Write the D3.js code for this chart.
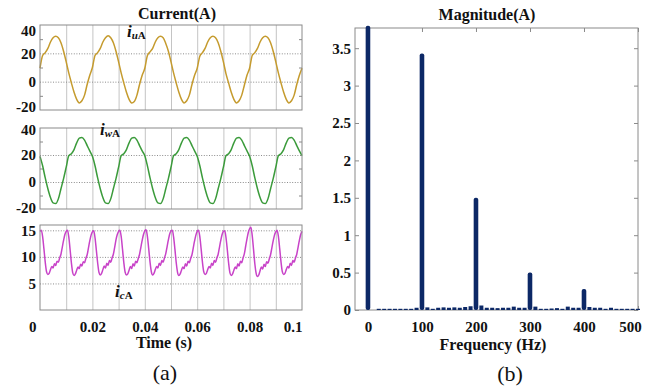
<!DOCTYPE html>
<html lang="en">
<head>
<meta charset="UTF-8">
<title>Current and spectrum</title>
<script src="https://cdn.jsdelivr.net/npm/d3@7/dist/d3.min.js"></script>
<style>
body{margin:0;background:#fff;}
</style>
</head>
<body>
<script>
// ---- data ----
// i_uA, sampled every 1 ms from 0 to 0.1 s
var iuVals = [
 9.5,18.5,20.5,23.5,28,31,32,31,27.5,21.5,14,6,-1,-7.5,-12.5,-15,-13.5,-9.5,-2,4.5,
 10,18.5,20.5,23.5,28,31,32.5,31,27.5,21.5,14,6,-1,-7.5,-12.5,-15,-14,-9.5,-2,4.5,
 9.5,18.5,21,23.5,28,31,32,31,27,21.5,14,6,-1,-7.5,-12.5,-15,-13.5,-9.5,-2,4.5,
 9.5,18,20.5,23.5,28,31,32,31,27.5,21.5,14,5.5,-1,-7.5,-12.5,-15,-13.5,-9.5,-2.5,4.5,
 9.5,18.5,20.5,23.5,28,31,32,31,27.5,21.5,14,6,-1,-7.5,-12.5,-15,-13.5,-9.5,-2,4.5,
 9.5];
// i_wA, sampled every 1 ms
var iwVals = [
 19,12,3,-5,-11.5,-15.5,-16,-12.5,-5,2.5,11,19.5,21,24,29,32.5,33,31,27,23,
 19,12,3,-5,-11.5,-15.5,-16,-12.5,-5,2.5,11,19.5,21,24,29,32.5,33,31,27,23,
 19.5,12,3,-5,-11.5,-15.5,-16,-12.5,-5,2.5,11,19.5,21,24,29,32.5,33,31,27,23,
 19,12,3,-5,-11.5,-15.5,-16,-12.5,-5,2.5,11,19.5,21,24,29,32.5,33,31,27,23,
 19,12,3,-5,-11.5,-15.5,-16,-12.5,-5,2.5,11,19.5,21,24,29,32.5,33,31,27,23,
 19.5];
// i_cA, sampled every 0.5 ms
var icVals = [14.8,
 15,13.8,11.5,9,7.2,6.7,6.9,7.6,8.2,7.9,8.7,8.4,9.2,9.0,9.8,10.5,11.8,13.1,14.2,14.8,
 15,13.7,11.3,8.8,7.0,6.5,6.8,7.5,8.1,7.8,8.6,8.3,9.1,8.9,9.7,10.4,11.7,13.0,14.1,14.7,
 14.9,13.6,11.3,8.9,7.1,6.6,6.9,7.6,8.3,7.9,8.8,8.4,9.3,9.0,9.8,10.5,11.8,13.2,14.2,14.8,
 15,13.8,11.4,8.9,7.1,6.6,6.8,7.5,8.2,7.8,8.7,8.3,9.2,8.9,9.7,10.5,11.8,13.1,14.2,14.9,
 15.1,13.8,11.5,9,7.2,6.6,6.9,7.6,8.2,7.9,8.8,8.4,9.3,9.0,9.8,10.6,11.9,13.2,14.3,14.9,
 15,13.7,11.4,8.9,7.1,6.5,6.8,7.5,8.1,7.8,8.7,8.3,9.2,8.9,9.7,10.4,11.7,13.0,14.1,14.8,
 15,13.8,11.5,9,7.2,6.7,6.9,7.6,8.2,7.9,8.8,8.4,9.3,9.0,9.8,10.5,11.8,13.1,14.2,14.8,
 14.9,13.6,11.3,8.8,7.0,6.5,6.8,7.5,8.1,7.8,8.7,8.3,9.2,8.9,9.8,10.6,12.0,13.4,14.6,15.3,
 15.6,14.0,11.4,8.7,6.9,6.3,6.6,7.4,8.1,7.7,8.6,8.2,9.1,8.8,9.6,10.4,11.7,13.0,14.1,14.7,
 15,13.8,11.5,9,7.2,6.7,6.9,7.6,8.2,7.9,8.8,8.4,9.3,9.0,9.8,10.5,11.8,13.1,14.2,14.8];
var tA = d3.range(iuVals.length).map(function(i){return i*0.001;});
var tC = d3.range(icVals.length).map(function(i){return i*0.0005;});

var timeTicks = [0,0.02,0.04,0.06,0.08,0.1];
var timeLabels = ["0","0.02","0.04","0.06","0.08","0.1"];
var uwTicks = [40,20,0,-20];
var cTicks = [15,10,5];

// spectrum
var harmFreq = [0,100,200,300,400];
var harmMag = [3.8,3.43,1.5,0.5,0.28];
var noiseFreq = [20,30,40,50,60,70,80,90,110,120,130,140,150,160,170,180,190,
 210,220,230,240,250,260,270,280,290,310,320,330,340,350,360,370,380,390,
 410,420,430,440,450,460,470,480,490,500];
var noiseMag = [0.005,0.005,0.006,0.005,0.006,0.005,0.006,0.03,0.035,0.01,0.03,0.035,0.03,0.035,0.03,0.04,0.05,
 0.06,0.03,0.03,0.025,0.03,0.03,0.045,0.03,0.03,0.045,0.01,0.008,0.02,0.025,0.01,0.045,0.03,0.03,
 0.04,0.03,0.03,0.008,0.03,0.008,0.006,0.006,0.006,0.006];
var freqTicks = [0,100,200,300,400,500];
var magTicks = [0,0.5,1,1.5,2,2.5,3,3.5];

// ---- drawing ----
var width = 661, height = 390;
var serif = "'Liberation Serif','Times New Roman','DejaVu Serif',serif";
var svg = d3.select("body").append("svg").attr("width",width).attr("height",height);
var frameCol = "#8a8a8a";

var xA = d3.scaleLinear().domain([0,0.1]).range([40,302]);

var panels = [
  {vals:iuVals, t:tA, dom:[-20,40], rng:[110,25], grid:[20,0], minor:[30,10,-10], col:"#c59b2e", labels:uwTicks},
  {vals:iwVals, t:tA, dom:[-20,40], rng:[209,128], grid:[20,0], minor:[30,10,-10], col:"#3b9b3b", labels:uwTicks},
  {vals:icVals, t:tC, dom:[0,16], rng:[310,225], grid:[15,10,5], minor:[], col:"#c843c8", labels:cTicks}
];

panels.forEach(function(p,k){
  var y = d3.scaleLinear().domain(p.dom).range(p.rng);
  var g = svg.append("g");
  // vertical grid
  g.append("g").attr("transform","translate(0,"+p.rng[0]+")")
    .call(d3.axisBottom(xA).tickValues(d3.range(1,10).map(function(i){return i/100;})).tickSize(-(p.rng[0]-p.rng[1])).tickFormat(""))
    .call(function(s){s.select(".domain").remove();s.selectAll("line").attr("stroke","#c4c4c4");});
  // horizontal dotted grid
  g.append("g").attr("transform","translate(40,0)")
    .call(d3.axisRight(y).tickValues(p.grid).tickSize(262).tickFormat(""))
    .call(function(s){s.select(".domain").remove();s.selectAll("line").attr("stroke","#8c8c8c").attr("stroke-dasharray","1,1.6");});
  // minor inward ticks
  g.append("g").attr("transform","translate(40,0)")
    .call(d3.axisLeft(y).tickValues(p.minor).tickSize(-3).tickFormat(""))
    .call(function(s){s.select(".domain").remove();s.selectAll("line").attr("stroke",frameCol);});
  g.append("g").attr("transform","translate(302,0)")
    .call(d3.axisRight(y).tickValues(p.minor).tickSize(-3).tickFormat(""))
    .call(function(s){s.select(".domain").remove();s.selectAll("line").attr("stroke",frameCol);});
  // curve
  var line = d3.line().x(function(d,i){return xA(p.t[i]);}).y(function(d){return y(d);}).curve(d3.curveMonotoneX);
  g.append("path").datum(p.vals).attr("d",line).attr("fill","none").attr("stroke",p.col).attr("stroke-width",1.5);
  // frame
  g.append("rect").attr("x",40).attr("y",p.rng[1]).attr("width",262).attr("height",p.rng[0]-p.rng[1])
    .attr("fill","none").attr("stroke",frameCol);
  // y labels
  var ya = g.append("g").attr("transform","translate(40,0)")
    .call(d3.axisLeft(y).tickValues(p.labels).tickSize(0).tickPadding(4).tickFormat(function(d){return d;}));
  ya.select(".domain").remove();
  ya.selectAll("text").attr("font-size",15).attr("font-weight","bold").attr("fill","#111")
    .attr("dy",function(d){
      if(k==0 && d==40) return "0.7em";
      if(k==0 && d==-20) return "0.12em";
      if(k==1 && d==40) return "0.42em";
      if(k==1 && d==-20) return "0.25em";
      return "0.33em";});
});

// time axis labels
var xa = svg.append("g").attr("transform","translate(0,310)")
  .call(d3.axisBottom(xA).tickValues(timeTicks).tickSize(0).tickPadding(11)
    .tickFormat(function(d,i){return timeLabels[i];}));
xa.select(".domain").remove();
xa.selectAll("text").attr("font-size",15).attr("font-weight","bold").attr("fill","#111")
  .attr("text-anchor",function(d,i){return i==0||i==timeTicks.length-1?"end":"middle";})
  .attr("dx",function(d,i){return i==0?"-4":"0";});

// series labels
function subLabel(x,y,sub){
  var t = svg.append("text").attr("x",x).attr("y",y).attr("fill","#111").attr("font-weight","bold");
  t.append("tspan").attr("font-style","italic").attr("font-size",17).text("i");
  t.append("tspan").attr("font-style","italic").attr("font-size",11).attr("dy",2).text(sub);
  t.append("tspan").attr("font-size",11).text("A");
}
subLabel(127,37,"u");
subLabel(100,135,"w");
subLabel(115,297,"c");

svg.append("text").attr("x",177).attr("y",19).attr("text-anchor","middle").attr("font-size",16)
  .attr("font-weight","bold").attr("fill","#111").text("Current(A)");
svg.append("text").attr("x",164).attr("y",348).attr("text-anchor","middle").attr("font-size",16)
  .attr("font-weight","bold").attr("fill","#111").text("Time (s)");
svg.append("text").attr("x",165).attr("y",380).attr("text-anchor","middle").attr("font-size",22)
  .attr("fill","#111").text("(a)");

// ---- spectrum ----
var xB = d3.scaleLinear().domain([-24,500]).range([355,638]);
var yB = d3.scaleLinear().domain([0,3.77]).range([310,28]);
var barCol = "#0c2866";

svg.append("rect").attr("x",355).attr("y",28).attr("width",283).attr("height",282)
  .attr("fill","none").attr("stroke",frameCol);

var yl = svg.append("g").attr("transform","translate(355,0)")
  .call(d3.axisLeft(yB).tickValues(magTicks).tickSize(-4).tickPadding(4).tickFormat(d3.format("~g")));
yl.select(".domain").remove();
yl.selectAll("line").attr("stroke",frameCol);
yl.selectAll("text").attr("font-size",15).attr("font-weight","bold").attr("fill","#111");

var yr = svg.append("g").attr("transform","translate(638,0)")
  .call(d3.axisRight(yB).tickValues(magTicks).tickSize(-4).tickFormat(""));
yr.select(".domain").remove();
yr.selectAll("line").attr("stroke",frameCol);

var xt = svg.append("g").attr("transform","translate(0,28)")
  .call(d3.axisTop(xB).tickValues(freqTicks).tickSize(-4).tickFormat(""));
xt.select(".domain").remove();
xt.selectAll("line").attr("stroke",frameCol);

var xb = svg.append("g").attr("transform","translate(0,310)")
  .call(d3.axisBottom(xB).tickValues(freqTicks).tickSize(-4).tickPadding(11).tickFormat(d3.format("d")));
xb.select(".domain").remove();
xb.selectAll("line").attr("stroke",frameCol);
xb.selectAll("text").attr("font-size",15).attr("font-weight","bold").attr("fill","#111")
  .attr("dx",function(d){return d==500?"-8":"0";});

// small components
svg.append("g").selectAll("rect").data(noiseFreq).enter().append("rect")
  .attr("x",function(d){return xB(d)-2;})
  .attr("width",4)
  .attr("y",function(d,i){return Math.min(yB(noiseMag[i]),yB(0)-1.2);})
  .attr("height",function(d,i){return Math.max(yB(0)-yB(noiseMag[i]),1.2);})
  .attr("fill",barCol);

// harmonic bars
svg.append("g").selectAll("rect").data(harmFreq).enter().append("rect")
  .attr("x",function(d){return xB(d)-2.3;})
  .attr("width",4.6)
  .attr("y",function(d,i){return yB(harmMag[i]);})
  .attr("height",function(d,i){return yB(0)-yB(harmMag[i]);})
  .attr("rx",2)
  .attr("fill",barCol);

svg.append("text").attr("x",487).attr("y",20).attr("text-anchor","middle").attr("font-size",16)
  .attr("font-weight","bold").attr("fill","#111").text("Magnitude(A)");
svg.append("text").attr("x",493).attr("y",350).attr("text-anchor","middle").attr("font-size",16)
  .attr("font-weight","bold").attr("fill","#111").text("Frequency (Hz)");
svg.append("text").attr("x",510).attr("y",381).attr("text-anchor","middle").attr("font-size",22)
  .attr("fill","#111").text("(b)");

// serif everywhere, overriding the axis default
svg.selectAll("g").attr("font-family",serif);
svg.selectAll("text").attr("font-family",serif);
</script>
</body>
</html>
